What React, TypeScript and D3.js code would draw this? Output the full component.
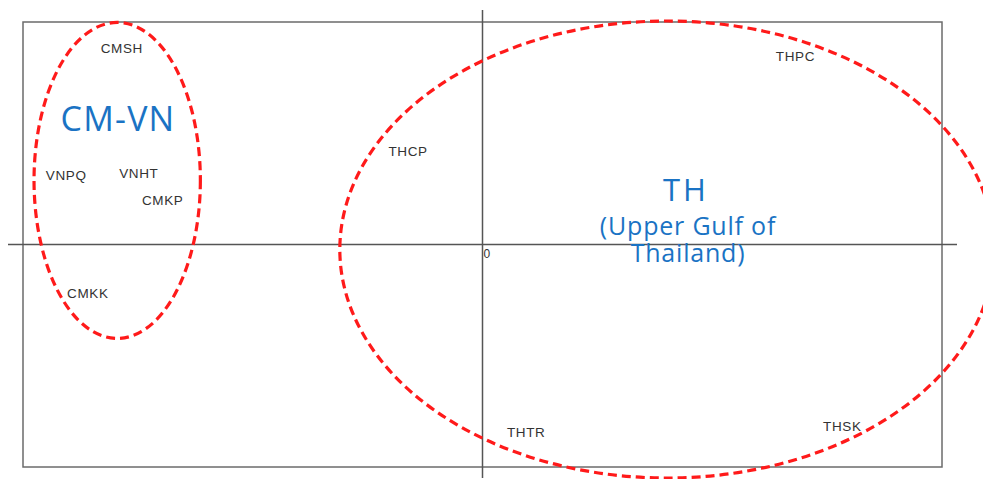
import * as d3 from "d3";

// sample codes and their ordination scores (axis 1, axis 2)
const sites = ["CMSH", "VNPQ", "VNHT", "CMKP", "CMKK", "THCP", "THPC", "THTR", "THSK"];
const axis1 = [-0.785, -0.906, -0.748, -0.696, -0.859, -0.162, 0.681, 0.095, 0.783];
const axis2 = [0.883, 0.308, 0.317, 0.2, -0.222, 0.42, 0.843, -0.847, -0.82];

// grouping ellipses: centre and radii in score units
const groupNames = ["CM-VN", "TH"];
const groupCx = [-0.795, 0.4015];
const groupCy = [0.288, -0.0225];
const groupRx = [0.181, 0.712];
const groupRy = [0.71, 1.027];

const thSubtitle = ["(Upper Gulf of", "Thailand)"];

const width = 983;
const height = 479;
const margin = { top: 22, right: 41, bottom: 12, left: 23 };
const overhang = 15;
const blue = "#1a73c4";

export default function App() {
  const x = d3.scaleLinear().domain([-1, 1]).range([margin.left, width - margin.right]);
  const y = d3.scaleLinear().domain([-1, 1]).range([height - margin.bottom, margin.top]);
  const [x0, x1] = x.range();
  const [y1, y0] = y.range();

  return (
    <svg
      width={width}
      height={height}
      style={{ position: "absolute", left: 0, top: 0, background: "#fff" }}
    >
      <rect x={x0} y={y0} width={x1 - x0} height={y1 - y0} fill="none" stroke="#6b6b6b" strokeWidth={1.5} />
      <line x1={x0 - overhang} x2={x1 + overhang} y1={y(0)} y2={y(0)} stroke="#555" strokeWidth={1.5} />
      <line x1={x(0)} x2={x(0)} y1={y0 - 12} y2={y1 + 11} stroke="#555" strokeWidth={1.5} />
      <text x={x(0) + 1} y={y(0) + 13} fontFamily="Liberation Sans, Arial" fontSize={12} fill="#333">0</text>

      {sites.map((s, i) => (
        <text
          key={s}
          x={x(axis1[i])}
          y={y(axis2[i])}
          textAnchor="middle"
          dominantBaseline="central"
          fontFamily="Liberation Sans, Arial"
          fontSize={13.5}
          letterSpacing={0.6}
          fill="#333"
        >
          {s}
        </text>
      ))}

      {groupNames.map((g, i) => (
        <ellipse
          key={g}
          cx={x(groupCx[i])}
          cy={y(groupCy[i])}
          rx={x(groupRx[i]) - x(0)}
          ry={y(0) - y(groupRy[i])}
          fill="none"
          stroke="#ff1a1a"
          strokeWidth={3.2}
          strokeDasharray="9 5"
        />
      ))}

      <text x={118} y={131} textAnchor="middle" fontFamily="Open Sans" fontSize={34} letterSpacing={1.2} fill={blue}>
        {groupNames[0]}
      </text>
      <text x={686} y={201} textAnchor="middle" fontFamily="Open Sans" fontSize={31} letterSpacing={3} fill={blue}>
        {groupNames[1]}
      </text>
      {thSubtitle.map((t, i) => (
        <text key={t} x={688} y={235 + i * 27} textAnchor="middle" fontFamily="Open Sans" fontSize={25} letterSpacing={0.8} fill={blue}>
          {t}
        </text>
      ))}
    </svg>
  );
}
